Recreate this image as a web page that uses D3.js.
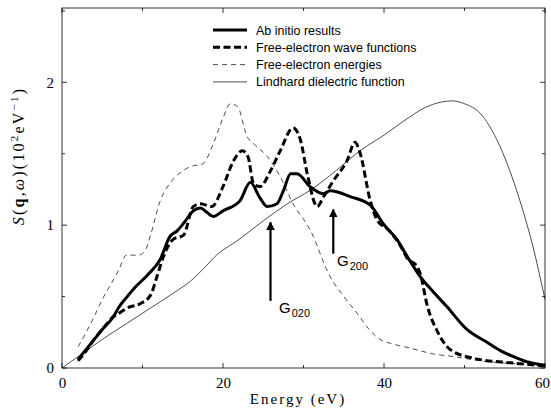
<!DOCTYPE html>
<html>
<head>
<meta charset="utf-8">
<script src="https://cdn.jsdelivr.net/npm/d3@7"></script>
<style>
  body { margin: 0; background: #fff; }
  svg { display: block; }
</style>
</head>
<body>
<svg width="551" height="408"></svg>
<script>
// values (energy in eV, S in 10^2 eV^-1)
const abInitioE = [2, 3, 4, 5, 6.4, 7, 8.1, 9, 10.6, 12.2, 13.4, 14.3, 15.2, 16.3, 17.2, 18, 18.8, 20, 22.1, 23.4, 24.6, 25.5, 26.7, 27.5, 28.4, 29.2, 30.8, 32.5, 33.3, 35.8, 38.3, 39.9, 41.6, 43, 44.5, 46, 47.8, 50.3, 52.8, 54.5, 56.1, 58, 60];
const abInitioS = [0.06, 0.13, 0.2, 0.27, 0.36, 0.42, 0.5, 0.56, 0.65, 0.76, 0.92, 0.96, 1.02, 1.1, 1.12, 1.09, 1.06, 1.1, 1.17, 1.3, 1.19, 1.13, 1.15, 1.24, 1.36, 1.36, 1.27, 1.22, 1.24, 1.2, 1.14, 1.01, 0.9, 0.77, 0.64, 0.54, 0.43, 0.27, 0.18, 0.12, 0.08, 0.04, 0.02];

const waveE = [2, 3, 4, 5, 6.4, 7, 8.1, 9.7, 11, 11.8, 12.6, 13.8, 15.1, 16.3, 17.2, 18.6, 20, 21.3, 22.4, 23.1, 23.8, 24.6, 25.9, 27.1, 28.7, 29.6, 30.5, 31.7, 32.5, 33.7, 35.4, 36.4, 37, 38.3, 39.2, 40.5, 42, 43, 44, 44.5, 45.4, 46.6, 48.2, 51, 56, 60];
const waveS = [0.05, 0.12, 0.2, 0.27, 0.36, 0.38, 0.42, 0.45, 0.51, 0.64, 0.78, 0.9, 0.93, 1.13, 1.15, 1.13, 1.27, 1.45, 1.52, 1.48, 1.29, 1.27, 1.38, 1.52, 1.68, 1.6, 1.35, 1.13, 1.2, 1.31, 1.45, 1.58, 1.51, 1.17, 1.03, 0.97, 0.86, 0.76, 0.72, 0.66, 0.43, 0.26, 0.13, 0.07, 0.035, 0.015];

const energiesE = [2, 3, 4, 5, 6, 7, 8, 9.5, 10.4, 11, 12.2, 13.5, 15, 16, 17.5, 18.8, 20, 20.9, 21.8, 23, 24, 25.5, 27.1, 28.7, 30.8, 33.3, 35, 36.7, 38, 39.5, 41, 43.2, 46, 48.6, 52, 55, 60];
const energiesS = [0.15, 0.25, 0.36, 0.48, 0.58, 0.68, 0.79, 0.79, 0.83, 0.93, 1.17, 1.3, 1.38, 1.41, 1.43, 1.57, 1.75, 1.85, 1.83, 1.62, 1.56, 1.48, 1.34, 1.15, 0.97, 0.64, 0.5, 0.38, 0.28, 0.2, 0.17, 0.14, 0.1, 0.08, 0.05, 0.035, 0.02];

const lindhardE = [0, 2, 5, 8, 11, 14, 16, 18, 19, 22, 25, 28, 31, 34, 37, 40, 43, 45, 47, 48.5, 50, 52, 54, 55.5, 57, 58.5, 60];
const lindhardS = [0, 0.08, 0.2, 0.31, 0.42, 0.53, 0.61, 0.72, 0.78, 0.9, 1.03, 1.15, 1.25, 1.38, 1.52, 1.63, 1.75, 1.82, 1.86, 1.87, 1.85, 1.78, 1.6, 1.4, 1.15, 0.85, 0.48];

const legendLabels = ["Ab initio results", "Free-electron wave functions", "Free-electron energies", "Lindhard dielectric function"];
const xTicks = [0, 20, 40, 60];
const yTicks = [0, 1, 2];

const svg = d3.select("svg");

const x = d3.scaleLinear().domain([0, 60]).range([62, 545]);
const y = d3.scaleLinear().domain([0, 2.52]).range([368, 8]);

// series styles
const series = [
  { e: abInitioE, s: abInitioS, width: 3, dash: null },
  { e: waveE, s: waveS, width: 3, dash: "7,3.5" },
  { e: energiesE, s: energiesS, width: 0.7, dash: "5,4" },
  { e: lindhardE, s: lindhardS, width: 0.7, dash: null }
];

const line = d3.line()
  .x(d => x(d[0]))
  .y(d => y(d[1]))
  .curve(d3.curveMonotoneX);

const plot = svg.append("g");

series.forEach(sr => {
  plot.append("path")
    .datum(d3.zip(sr.e, sr.s))
    .attr("d", line)
    .attr("fill", "none")
    .attr("stroke", "#000")
    .attr("stroke-width", sr.width)
    .attr("stroke-linejoin", "round")
    .attr("stroke-dasharray", sr.dash);
});

// frame
svg.append("rect")
  .attr("x", x(0)).attr("y", y(2.52))
  .attr("width", x(60) - x(0)).attr("height", y(0) - y(2.52))
  .attr("fill", "none").attr("stroke", "#000").attr("stroke-width", 0.8);

// axes, ticks inward on all sides
const fmt = d3.format("d");
const bottom = svg.append("g").attr("transform", `translate(0,${y(0)})`)
  .call(d3.axisBottom(x).tickValues(xTicks).tickSize(0).tickPadding(9).tickFormat(fmt));
const left = svg.append("g").attr("transform", `translate(${x(0)},0)`)
  .call(d3.axisLeft(y).tickValues(yTicks).tickSize(0).tickPadding(8).tickFormat(fmt));
[bottom, left].forEach(g => {
  g.select(".domain").remove();
  g.selectAll("text").attr("font-family", "'Liberation Serif', serif").attr("font-size", 15).attr("fill", "#000");
});
// the last label sits against the page edge
bottom.selectAll("text").filter(d => d === 60).attr("dx", -3);

const tickG = svg.append("g").attr("stroke", "#000").attr("stroke-width", 0.8);
d3.range(0, 61, 10).forEach(v => {
  const len = v % 20 === 0 ? 5 : 3;
  tickG.append("line").attr("x1", x(v)).attr("x2", x(v)).attr("y1", y(0)).attr("y2", y(0) - len);
  tickG.append("line").attr("x1", x(v)).attr("x2", x(v)).attr("y1", y(2.52)).attr("y2", y(2.52) + len);
});
d3.range(0, 2.51, 0.5).forEach(v => {
  const len = v % 1 === 0 ? 5 : 3;
  tickG.append("line").attr("x1", x(0)).attr("x2", x(0) + len).attr("y1", y(v)).attr("y2", y(v));
  tickG.append("line").attr("x1", x(60)).attr("x2", x(60) - len).attr("y1", y(v)).attr("y2", y(v));
});

// axis titles
svg.append("text")
  .attr("x", 298).attr("y", 404)
  .attr("text-anchor", "middle")
  .attr("font-family", "'Liberation Serif', serif")
  .attr("font-size", 15)
  .attr("letter-spacing", 2)
  .text("Energy (eV)");

const yl = svg.append("text")
  .attr("transform", "translate(24,156) rotate(-90)")
  .attr("text-anchor", "middle")
  .attr("font-family", "'Liberation Serif', serif")
  .attr("font-size", 16)
  .attr("letter-spacing", 2.2);
yl.append("tspan").attr("font-style", "italic").text("S");
yl.append("tspan").text("(");
yl.append("tspan").attr("font-weight", "bold").text("q");
yl.append("tspan").text(",");
yl.append("tspan").attr("font-style", "italic").text("ω");
yl.append("tspan").text(")(10");
yl.append("tspan").attr("font-size", 11).attr("dy", -6).text("2");
yl.append("tspan").attr("dy", 6).text("eV");
yl.append("tspan").attr("font-size", 11).attr("dy", -6).text("−1");
yl.append("tspan").attr("dy", 6).text(")");

// legend
const legend = svg.append("g");
legendLabels.forEach((lab, i) => {
  const ly = 30 + i * 17.3;
  legend.append("line")
    .attr("x1", 213).attr("x2", 247).attr("y1", ly).attr("y2", ly)
    .attr("stroke", "#000")
    .attr("stroke-width", series[i].width)
    .attr("stroke-dasharray", series[i].dash);
  legend.append("text")
    .attr("x", 256).attr("y", ly + 4.5)
    .attr("font-family", "'Liberation Sans', Arial, sans-serif")
    .attr("font-size", 12.5)
    .text(lab);
});

// reciprocal lattice vector markers
const arrows = [
  { e: 25.9, top: 1.02, bottom: 0.47, label: "G", sub: "020", lx: 279, ly: 313 },
  { e: 33.7, top: 1.11, bottom: 0.8, label: "G", sub: "200", lx: 337, ly: 266 }
];
svg.append("defs").append("marker")
  .attr("id", "head").attr("viewBox", "0 0 10 10")
  .attr("refX", 9).attr("refY", 5)
  .attr("markerWidth", 4).attr("markerHeight", 4.5)
  .attr("orient", "auto")
  .append("path").attr("d", "M0,0L10,5L0,10Z").attr("fill", "#000");
arrows.forEach(a => {
  svg.append("line")
    .attr("x1", x(a.e)).attr("x2", x(a.e))
    .attr("y1", y(a.bottom)).attr("y2", y(a.top))
    .attr("stroke", "#000").attr("stroke-width", 2.2)
    .attr("marker-end", "url(#head)");
  const t = svg.append("text")
    .attr("x", a.lx).attr("y", a.ly)
    .attr("font-family", "'Liberation Sans', Arial, sans-serif")
    .attr("font-size", 15);
  t.append("tspan").text(a.label);
  t.append("tspan").attr("font-size", 11).attr("dy", 4).attr("dx", 1).text(a.sub);
});
</script>
</body>
</html>
